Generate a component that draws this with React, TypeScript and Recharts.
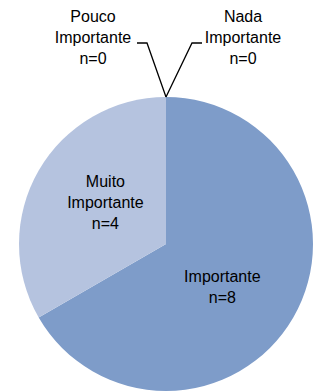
import React from 'react';
import { PieChart, Pie, Cell } from 'recharts';

const categories = ['Importante', 'Muito Importante', 'Pouco Importante', 'Nada Importante'];
const counts = [8, 4, 0, 0];
const labelLines = [['Importante', 'n=8'], ['Muito', 'Importante', 'n=4'], ['Pouco', 'Importante', 'n=0'], ['Nada', 'Importante', 'n=0']];
const colors = ['#7E9CC9', '#B5C3DF', '#B5C3DF', '#7E9CC9'];

const data = categories.map((name, i) => ({ name, value: counts[i] }));

const FONT = 'Liberation Sans, Arial, sans-serif';
const FS = 16;
const LH = 21;

const renderLabel = (props: any) => {
  const { cx, cy, midAngle, outerRadius, index } = props;
  const lines = labelLines[index];
  const RAD = Math.PI / 180;
  if (counts[index] > 0) {
    const r = outerRadius * (index === 0 ? 0.48 : 0.5);
    const a = midAngle + (index === 0 ? -7 : -4.5);
    const x = cx + r * Math.cos(-a * RAD);
    const y = cy + r * Math.sin(-a * RAD);
    const y0 = y - ((lines.length - 1) * LH) / 2;
    return (
      <text key={`l${index}`} x={x} y={y0} textAnchor="middle" dominantBaseline="central" fontFamily={FONT} fontSize={FS} fill="#000">
        {lines.map((t, j) => (
          <tspan key={j} x={x} y={y0 + j * LH}>{t}</tspan>
        ))}
      </text>
    );
  }
  const px = cx + outerRadius * Math.cos(-midAngle * RAD);
  const py = cy + outerRadius * Math.sin(-midAngle * RAD);
  const dir = index === 2 ? -1 : 1;
  const kx = px + dir * (index === 2 ? 19 : 26);
  const ky = py - 54;
  const hx = kx + dir * 10;
  const tx = px + dir * (index === 2 ? 73 : 77);
  const ty = ky - 6 - LH;
  return (
    <g key={`l${index}`}>
      <polyline points={`${px},${py} ${kx},${ky} ${hx},${ky}`} fill="none" stroke="#000" strokeWidth={1.3} />
      <text x={tx} y={ty} textAnchor="middle" dominantBaseline="central" fontFamily={FONT} fontSize={FS} fill="#000">
        {lines.map((t, j) => (
          <tspan key={j} x={tx} y={ty + j * LH}>{t}</tspan>
        ))}
      </text>
    </g>
  );
};

export default function App() {
  return (
    <div style={{ position: 'absolute', left: 0, top: 0, width: 315, height: 391, background: '#fff' }}>
      <PieChart width={315} height={391} margin={{ top: 0, right: 0, bottom: 0, left: 0 }}>
        <Pie
          data={data}
          dataKey="value"
          nameKey="name"
          cx={166}
          cy={244}
          outerRadius={147}
          startAngle={90}
          endAngle={-270}
          stroke="none"
          label={renderLabel}
          labelLine={false}
          isAnimationActive={false}
        >
          {data.map((d, i) => (
            <Cell key={d.name} fill={colors[i]} stroke="none" />
          ))}
        </Pie>
      </PieChart>
    </div>
  );
}
